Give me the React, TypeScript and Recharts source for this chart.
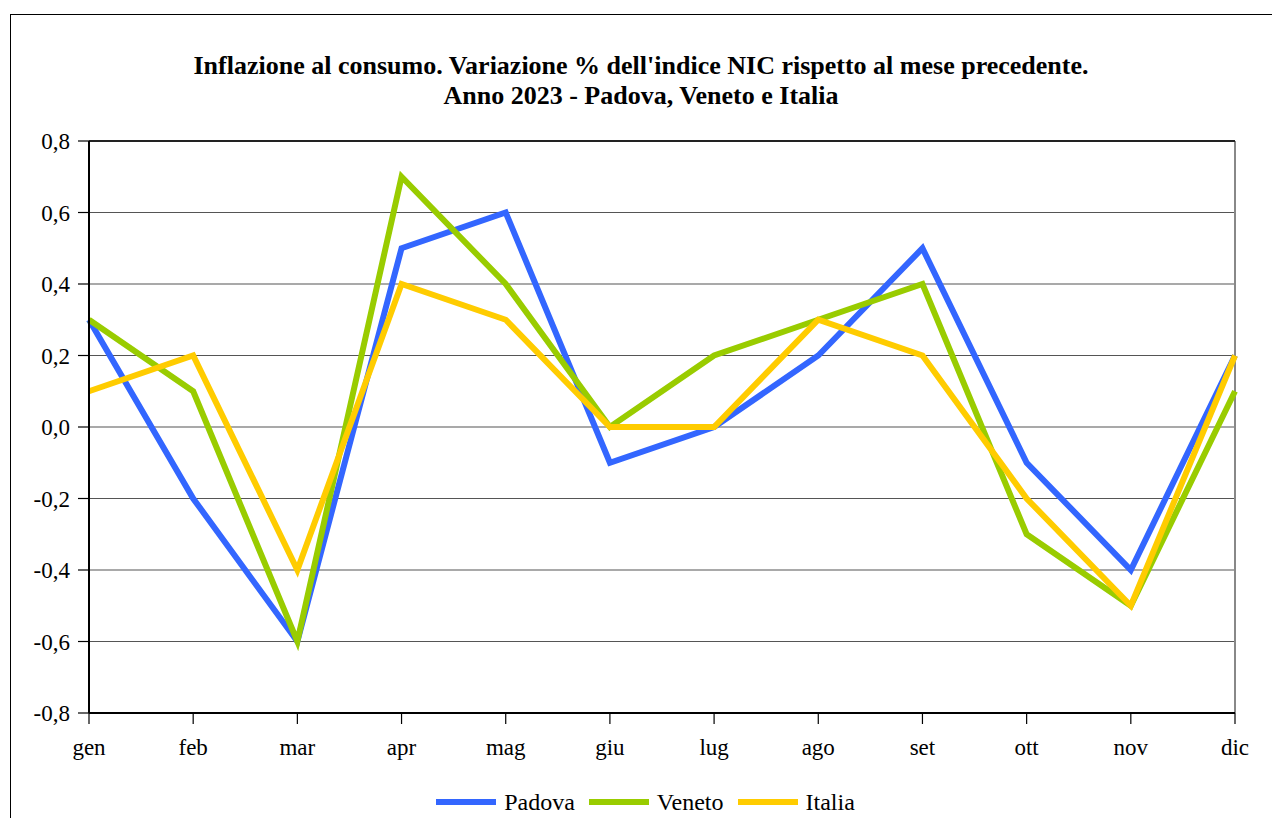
import { CartesianGrid, Line, LineChart, ReferenceLine, XAxis, YAxis } from 'recharts'

const months = ['gen', 'feb', 'mar', 'apr', 'mag', 'giu', 'lug', 'ago', 'set', 'ott', 'nov', 'dic']
const padova = [0.3, -0.2, -0.6, 0.5, 0.6, -0.1, 0.0, 0.2, 0.5, -0.1, -0.4, 0.2]
const veneto = [0.3, 0.1, -0.6, 0.7, 0.4, 0.0, 0.2, 0.3, 0.4, -0.3, -0.5, 0.1]
const italia = [0.1, 0.2, -0.4, 0.4, 0.3, 0.0, 0.0, 0.3, 0.2, -0.2, -0.5, 0.2]
const yTicks = [-0.8, -0.6, -0.4, -0.2, 0, 0.2, 0.4, 0.6, 0.8]

const series = [
  { key: 'Padova', color: '#3366FF' },
  { key: 'Veneto', color: '#99CC00' },
  { key: 'Italia', color: '#FFCC00' },
]

const data = months.map((m, i) => ({
  month: m,
  Padova: padova[i],
  Veneto: veneto[i],
  Italia: italia[i],
}))

const font = "'Times New Roman', 'Liberation Serif', 'DejaVu Serif', serif"

function formatY(v: number) {
  return v.toFixed(1).replace('.', ',')
}

function Legend() {
  return (
    <div
      style={{
        position: 'absolute',
        left: 0,
        width: 1272,
        top: 788,
        display: 'flex',
        justifyContent: 'center',
        fontFamily: font,
        fontSize: 24,
        lineHeight: '28px',
        color: '#000',
        paddingLeft: 33,
        boxSizing: 'border-box',
      }}
    >
      {series.map((s) => (
        <div key={s.key} style={{ display: 'flex', alignItems: 'center', marginRight: 14 }}>
          <span style={{ display: 'inline-block', width: 60, height: 6, background: s.color, marginRight: 8 }} />
          <span>{s.key}</span>
        </div>
      ))}
    </div>
  )
}

export default function App() {
  return (
    <div
      style={{
        position: 'fixed',
        left: 0,
        top: 0,
        width: 1272,
        height: 818,
        overflow: 'hidden',
        background: '#fff',
      }}
    >
      <div
        style={{
          position: 'absolute',
          left: 10,
          top: 14,
          width: 1300,
          height: 900,
          border: '1px solid #000',
        }}
      />
      <div
        style={{
          position: 'absolute',
          left: 10,
          width: 1262,
          top: 51,
          textAlign: 'center',
          fontFamily: font,
          fontWeight: 'bold',
          fontSize: 26,
          lineHeight: '30px',
          color: '#000',
        }}
      >
        Inflazione al consumo. Variazione % dell'indice NIC rispetto al mese precedente.
        <br />
        Anno 2023 - Padova, Veneto e Italia
      </div>
      <div style={{ position: 'absolute', left: 0, top: 0 }}>
        <LineChart
          width={1272}
          height={818}
          data={data}
          margin={{ top: 141, right: 37, left: 0, bottom: 65 }}
        >
          <CartesianGrid vertical={false} stroke="#555" strokeWidth={1.2} />
          <XAxis
            dataKey="month"
            height={40}
            axisLine={{ stroke: '#000', strokeWidth: 2 }}
            tickLine={{ stroke: '#000', strokeWidth: 1.2 }}
            tickSize={11}
            tickMargin={15}
            tick={{ fontFamily: font, fontSize: 23, fill: '#000' }}
            interval={0}
          />
          <YAxis
            width={89}
            domain={[-0.8, 0.8]}
            ticks={yTicks}
            tickFormatter={formatY}
            axisLine={{ stroke: '#000', strokeWidth: 2 }}
            tickLine={{ stroke: '#000', strokeWidth: 1.2 }}
            tickSize={11}
            tickMargin={8}
            tick={{ fontFamily: font, fontSize: 23, fill: '#000' }}
          />
          <ReferenceLine x="dic" stroke="#888" strokeWidth={2} />
          <ReferenceLine y={0.8} stroke="#222" strokeWidth={2} />
          {series.map((s) => (
            <Line
              key={s.key}
              type="linear"
              dataKey={s.key}
              stroke={s.color}
              strokeWidth={6}
              dot={false}
              isAnimationActive={false}
            />
          ))}
        </LineChart>
      </div>
      <Legend />
    </div>
  )
}
